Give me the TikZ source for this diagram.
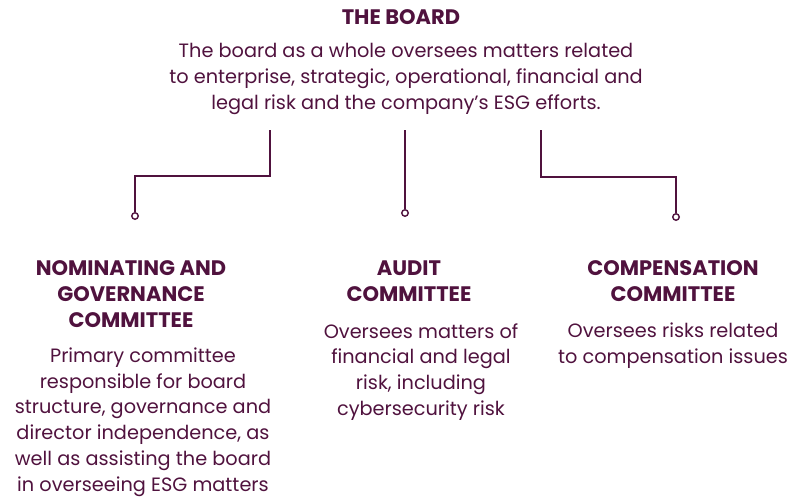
\documentclass[tikz,border=0pt]{standalone}
\usepackage{fontspec}
\setmainfont{Poppins}
\usepackage{tikz}
\definecolor{plum}{RGB}{80,18,62}
\tikzset{
  body/.style={text=plum, align=center, inner sep=0pt, font=\fontsize{19.3}{25.8}\selectfont},
  head/.style={text=plum, align=center, inner sep=0pt, font=\bfseries\fontsize{21}{26}\selectfont},
  tip/.style={circle, draw=plum, fill=white, line width=1.4pt, inner sep=0pt, minimum size=6.5pt},
  link/.style={draw=plum, line width=1.6pt}
}
\begin{document}
\begin{tikzpicture}[x=1pt,y=-1pt]
\useasboundingbox (0,0) rectangle (803,498);
% the board
\node[head] (board) at (401,17) {THE BOARD};
\node[body] (boardtext) at (406,79) {The board as a whole oversees matters related\\to enterprise, strategic, operational, financial and\\legal risk and the company's ESG efforts.};
% connectors
\coordinate (lefttop) at (270,130);
\coordinate (midtop) at (405,130);
\coordinate (righttop) at (541,130);
\node[tip] (lefttip) at (135,216) {};
\node[tip] (midtip) at (405,213) {};
\node[tip] (righttip) at (676,217) {};
\draw[link] (lefttop) |- ++(0,46) -| (lefttip.north);
\draw[link] (midtop) -- (midtip.north);
\draw[link] (righttop) |- ++(0,47) -| (righttip.north);
% committees
\node[head] (nomhead) at (131,294) {NOMINATING AND\\GOVERNANCE\\COMMITTEE};
\node[body] (nomtext) at (143,422) {Primary committee\\responsible for board\\structure, governance and\\director independence, as\\well as assisting the board\\in overseeing ESG matters};
\node[head] (audhead) at (409,281) {AUDIT\\COMMITTEE};
\node[body] (audtext) at (421,372) {Oversees matters of\\financial and legal\\risk, including\\cybersecurity risk};
\node[head] (comphead) at (673,281) {COMPENSATION\\COMMITTEE};
\node[body] (comptext) at (673,346) {Oversees risks related\\to compensation issues};
\end{tikzpicture}
\end{document}
